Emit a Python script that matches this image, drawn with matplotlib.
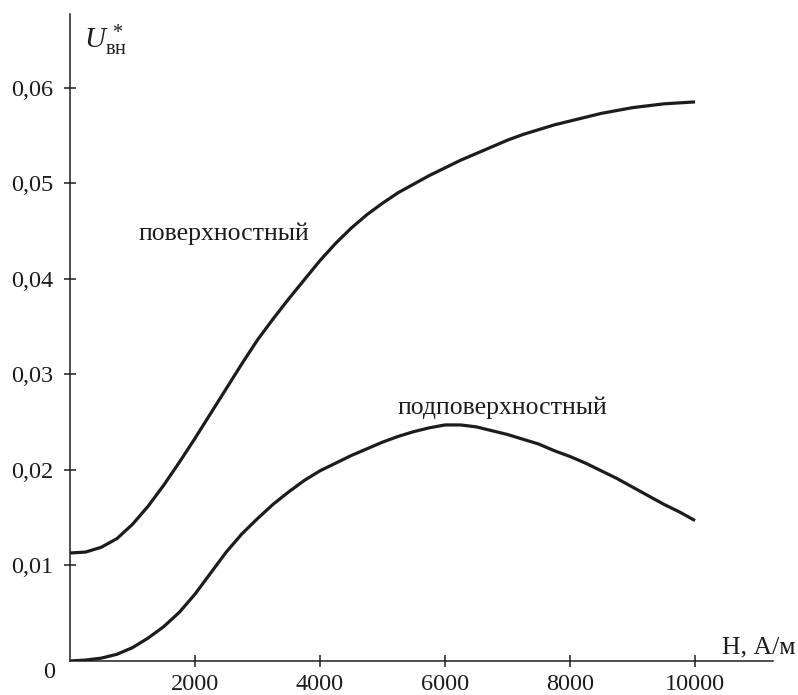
import matplotlib
matplotlib.use("Agg")
import matplotlib.pyplot as plt

# ---- data ----
H = [0, 250, 500, 750, 1000, 1250, 1500, 1750, 2000, 2250, 2500, 2750, 3000, 3250, 3500,
     3750, 4000, 4250, 4500, 4750, 5000, 5250, 5500, 5750, 6000, 6250, 6500, 6750, 7000,
     7250, 7500, 7750, 8000, 8250, 8500, 8750, 9000, 9250, 9500, 9750, 10000]
surface = [0.0113, 0.0114, 0.0119, 0.0128, 0.0143, 0.0162, 0.0184, 0.0208, 0.0233, 0.0259,
           0.0285, 0.0311, 0.0336, 0.0358, 0.0379, 0.0399, 0.0419, 0.0437, 0.0453, 0.0467,
           0.0479, 0.0490, 0.0499, 0.0508, 0.0516, 0.0524, 0.0531, 0.0538, 0.0545,
           0.0551, 0.0556, 0.0561, 0.0565, 0.0569, 0.0573, 0.0576, 0.0579, 0.0581, 0.0583,
           0.0584, 0.0585]
subsurface = [0.0000, 0.0001, 0.0003, 0.0007, 0.0014, 0.0024, 0.0036, 0.0051, 0.0070, 0.0092,
              0.0114, 0.0133, 0.0149, 0.0164, 0.0177, 0.0189, 0.0199, 0.0207, 0.0215, 0.0222,
              0.0229, 0.0235, 0.0240, 0.0244, 0.0247, 0.0247, 0.0245, 0.0241, 0.0237,
              0.0232, 0.0227, 0.0220, 0.0214, 0.0207, 0.0199, 0.0191, 0.0182, 0.0173, 0.0164,
              0.0156, 0.0147]
xticks = [2000, 4000, 6000, 8000, 10000]
xtick_labels = ["2000", "4000", "6000", "8000", "10000"]
yticks = [0.01, 0.02, 0.03, 0.04, 0.05, 0.06]
ytick_labels = ["0,01", "0,02", "0,03", "0,04", "0,05", "0,06"]
label_surface = "поверхностный"
label_subsurface = "подповерхностный"
xlabel = "Н, А/м"
ylabel = r"$U^{\,*}_{\mathrm{вн}}$"

plt.rcParams['font.family'] = ['Liberation Serif', 'DejaVu Serif']
plt.rcParams['mathtext.fontset'] = 'custom'
plt.rcParams['mathtext.rm'] = 'Liberation Serif'
plt.rcParams['mathtext.it'] = 'Liberation Serif:italic'
plt.rcParams['mathtext.bf'] = 'Liberation Serif:bold'

W, Hpx = 798, 695
fig = plt.figure(figsize=(W / 100, Hpx / 100), dpi=100)
ax = fig.add_axes([70 / W, (Hpx - 661) / Hpx, (773 - 70) / W, (661 - 14) / Hpx])

ink = '#1e1b1c'
ax.plot(H, surface, color=ink, lw=2.3, solid_capstyle='butt', solid_joinstyle='round')
ax.plot(H, subsurface, color=ink, lw=2.3, solid_capstyle='butt', solid_joinstyle='round')

ax.set_xlim(0, 11248)
ax.set_ylim(0, 0.0677)

for s in ['top', 'right']:
    ax.spines[s].set_visible(False)
for s in ['left', 'bottom']:
    ax.spines[s].set_linewidth(1.1)
    ax.spines[s].set_color(ink)

ax.set_xticks(xticks)
ax.set_xticklabels(xtick_labels)
ax.set_yticks(yticks)
ax.set_yticklabels(ytick_labels)
ax.tick_params(axis='both', direction='inout', length=8, width=1.1, color=ink,
               labelsize=17.5, labelcolor=ink)
ax.tick_params(axis='y', pad=8)
ax.tick_params(axis='x', pad=5.5)

# origin label
fig.text(49 / W, 1 - 672 / Hpx, "0", fontsize=17.5, ha='center', va='center', color=ink)

# axis labels
fig.text(796 / W, 1 - 653 / Hpx, xlabel, fontsize=18.5, ha='right', va='baseline', color=ink)
fig.text(84 / W, 1 - 48 / Hpx, ylabel, fontsize=21, ha='left', va='baseline', color=ink)

# curve labels
ax.text(2464, 0.0441, label_surface, fontsize=18.5, ha='center', va='baseline', color=ink)
ax.text(6912, 0.0258, label_subsurface, fontsize=18.5, ha='center', va='baseline', color=ink)

fig.savefig("out.png", dpi=100)
